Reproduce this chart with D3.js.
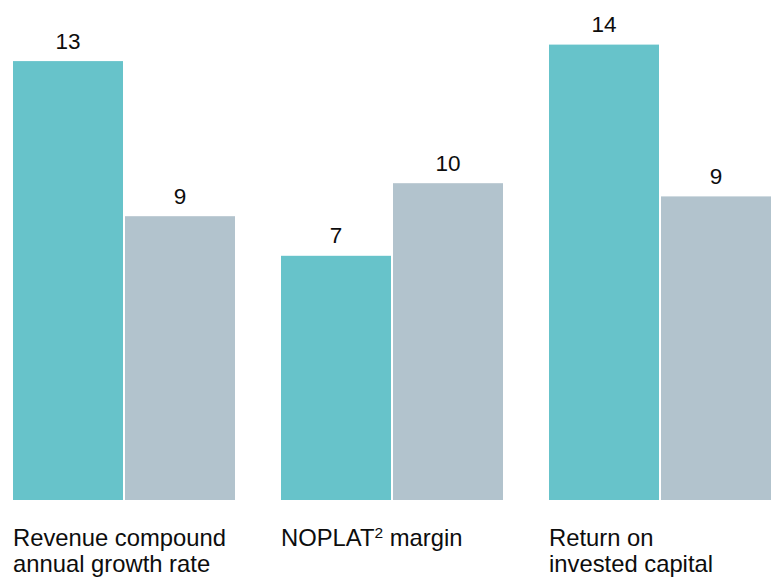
<!DOCTYPE html>
<html>
<head>
<meta charset="utf-8">
<script src="https://cdn.jsdelivr.net/npm/d3@7"></script>
<style>
  html, body { margin: 0; padding: 0; background: #ffffff; }
  svg { display: block; }
  text { font-family: "Liberation Sans", Arial, Helvetica, sans-serif; fill: #0d0d0d; }
</style>
</head>
<body>
<svg id="chart" width="776" height="578"></svg>
<script>
// Data
const categories = ["Revenue compound annual growth rate", "NOPLAT margin", "Return on invested capital"];
const seriesNames = ["A", "B"];
const tealValues = [13.3, 7.4, 13.8];
const greyValues = [8.6, 9.6, 9.2];
const tealLabels = ["13", "7", "14"];
const greyLabels = ["9", "10", "9"];
const categoryLines = [
  [["Revenue compound"], ["annual growth rate"]],
  [["NOPLAT", "2", " margin"]],
  [["Return on"], ["invested capital"]]
];

const colors = ["#67c3ca", "#b2c3cd"];

const svg = d3.select("#chart");
const baseY = 500;

const x0 = d3.scaleBand()
  .domain(categories)
  .range([13, 771])
  .paddingInner(46 / 268)
  .paddingOuter(0);

const x1 = d3.scaleBand()
  .domain(seriesNames)
  .range([0, x0.bandwidth()])
  .paddingInner(2 / 112)
  .paddingOuter(0);

const y = d3.scaleLinear()
  .domain([0, 15])
  .range([baseY, baseY - 15 * 33]);

const rows = categories.map((c, i) => ({
  cat: c,
  bars: [
    { s: "A", v: tealValues[i], label: tealLabels[i], color: colors[0] },
    { s: "B", v: greyValues[i], label: greyLabels[i], color: colors[1] }
  ]
}));

const g = svg.selectAll("g.group")
  .data(rows)
  .join("g")
  .attr("class", "group")
  .attr("transform", d => `translate(${x0(d.cat)},0)`);

g.selectAll("rect")
  .data(d => d.bars)
  .join("rect")
  .attr("x", d => x1(d.s))
  .attr("width", x1.bandwidth())
  .attr("y", d => y(d.v))
  .attr("height", d => y(0) - y(d.v))
  .attr("fill", d => d.color);

g.selectAll("text.val")
  .data(d => d.bars)
  .join("text")
  .attr("class", "val")
  .attr("x", d => x1(d.s) + x1.bandwidth() / 2)
  .attr("y", d => y(d.v) - 12.5)
  .attr("text-anchor", "middle")
  .style("font-size", "22.5px")
  .text(d => d.label);

// Category labels
const lineGap = 26.5;
const firstBase = 545.5;
categories.forEach((c, i) => {
  const t = svg.append("text")
    .attr("x", x0(c))
    .attr("y", firstBase)
    .style("font-size", "23.8px");
  categoryLines[i].forEach((line, li) => {
    if (line.length === 1) {
      t.append("tspan")
        .attr("x", x0(c))
        .attr("y", firstBase + li * lineGap)
        .text(line[0]);
    } else {
      t.append("tspan").attr("x", x0(c)).attr("y", firstBase + li * lineGap).text(line[0]);
      t.append("tspan").attr("dy", -8).style("font-size", "15.5px").text(line[1]);
      t.append("tspan").attr("dy", 8).text(line[2]);
    }
  });
});
</script>
</body>
</html>
